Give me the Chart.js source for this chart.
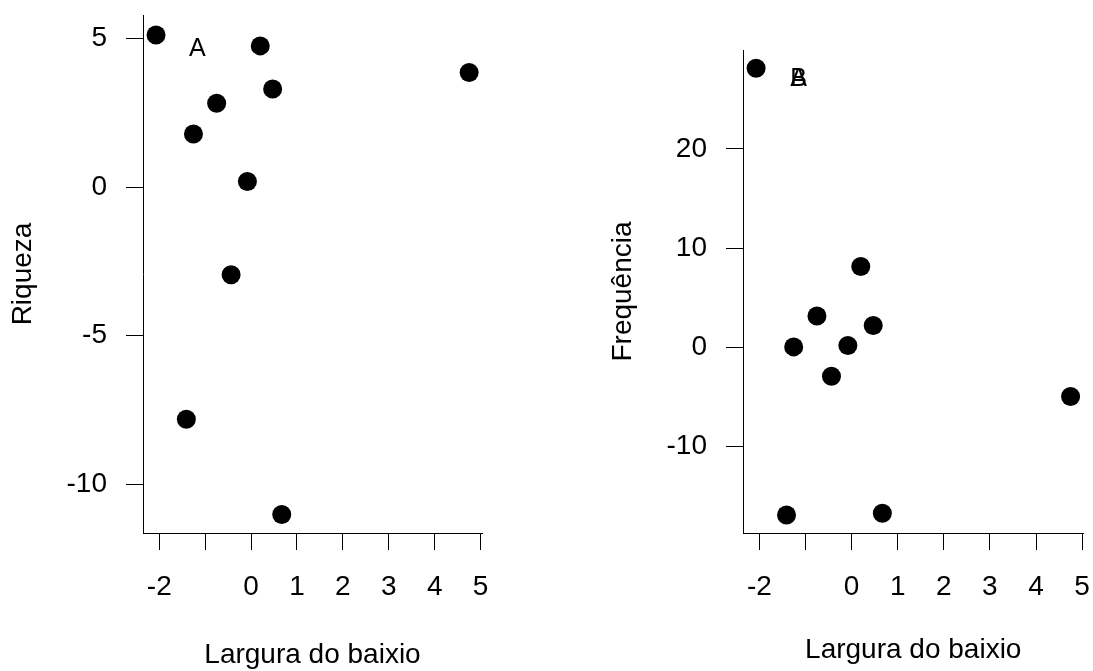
<!DOCTYPE html>
<html>
<head>
<meta charset="utf-8">
<script src="https://cdn.jsdelivr.net/npm/chart.js@4.4.1/dist/chart.umd.min.js"></script>
<style>
  html, body { margin: 0; padding: 0; background: #fff; }
  #wrap { position: relative; width: 1093px; height: 671px; overflow: hidden; background: #fff; }
  .panel { position: absolute; top: 0; height: 671px; }
  #p1 { left: 0; width: 546px; }
  #p2 { left: 546px; width: 547px; }
</style>
</head>
<body>
<div id="wrap">
  <div class="panel" id="p1"><canvas id="c1"></canvas></div>
  <div class="panel" id="p2"><canvas id="c2"></canvas></div>
</div>
<script>
// ---- data ----
const larguraX = [-2.07, 0.20, 4.75, 0.47, -0.75, -1.255, -0.08, -0.435, -1.41, 0.668];
const riqueza = [5.12, 4.755, 3.86, 3.30, 2.82, 1.79, 0.19, -2.95, -7.82, -11.03];
const frequencia = [28.13, 8.15, -4.93, 2.22, 3.18, 0.06, 0.2, -2.89, -16.88, -16.7];

const xTicks = [-2, -1, 0, 1, 2, 3, 4, 5];
const xTickLabels = ['-2', '', '0', '1', '2', '3', '4', '5'];
const yTicksLeft = [-10, -5, 0, 5];
const yTicksRight = [-10, 0, 10, 20];

const xTitle = 'Largura do baixio';
const yTitleLeft = 'Riqueza';
const yTitleRight = 'Frequência';

const labelsLeft = [{ x: -1.17, y: 4.64, text: 'A' }];
const labelsRight = [{ x: -1.15, y: 27.03, text: 'A' }, { x: -1.15, y: 27.03, text: 'B' }];

const xRange = [-2.354, 5.03];
const yRangeLeft = [-11.65, 5.795];
const yRangeRight = [-18.69, 29.97];

// ---- helpers ----
const FONT = '"Liberation Sans", Arial, sans-serif';
Chart.defaults.font.family = FONT;
Chart.defaults.color = '#000';

const textPlugin = {
  id: 'textLabels',
  afterDatasetsDraw(chart, args, opts) {
    const ctx = chart.ctx;
    const xs = chart.scales.x, ys = chart.scales.y;
    ctx.save();
    ctx.fillStyle = '#000';
    ctx.font = '25px ' + FONT;
    ctx.textAlign = 'center';
    ctx.textBaseline = 'middle';
    (opts.items || []).forEach(it => {
      ctx.fillText(it.text, xs.getPixelForValue(it.x), ys.getPixelForValue(it.y));
    });
    ctx.restore();
  }
};

function makeChart(canvasId, ys, yRange, yTicks, yTitle, labels, cfg) {
  const pts = larguraX.map((x, i) => ({ x: x, y: ys[i] }));
  return new Chart(document.getElementById(canvasId), {
    type: 'scatter',
    data: {
      datasets: [{
        data: pts,
        backgroundColor: '#000',
        borderColor: '#000',
        borderWidth: 0,
        pointRadius: 9.5,
        pointHoverRadius: 9.5,
        clip: false
      }]
    },
    plugins: [textPlugin],
    options: {
      responsive: true,
      maintainAspectRatio: false,
      animation: false,
      events: [],
      layout: { padding: { left: 0, right: cfg.padRight, top: cfg.padTop, bottom: 0 } },
      plugins: {
        legend: { display: false },
        tooltip: { enabled: false },
        textLabels: { items: labels }
      },
      scales: {
        x: {
          type: 'linear',
          min: xRange[0],
          max: xRange[1],
          afterBuildTicks: (s) => { s.ticks = xTicks.map(v => ({ value: v })); },
          afterFit: (s) => { s.height = 138; s.paddingLeft = 0; s.paddingRight = 0; },
          ticks: {
            autoSkip: false,
            maxRotation: 0,
            minRotation: 0,
            padding: 20,
            font: { size: 28, family: FONT, lineHeight: 1.2 },
            color: '#000',
            callback: (v) => { const i = xTicks.indexOf(v); return i >= 0 ? xTickLabels[i] : ''; }
          },
          grid: { drawOnChartArea: false, drawTicks: true, tickLength: 17, color: '#000', lineWidth: 1 },
          border: { display: true, color: '#000', width: 1 },
          title: {
            display: true,
            text: xTitle,
            color: '#000',
            font: { size: 28, family: FONT, lineHeight: 1 },
            padding: { top: 0, bottom: cfg.xTitlePad }
          }
        },
        y: {
          type: 'linear',
          min: yRange[0],
          max: yRange[1],
          afterBuildTicks: (s) => { s.ticks = yTicks.map(v => ({ value: v })); },
          afterFit: (s) => { s.width = cfg.yWidth; s.paddingTop = 0; s.paddingBottom = 0; },
          ticks: {
            autoSkip: false,
            padding: 19,
            font: { size: 28, family: FONT, lineHeight: 1.2 },
            color: '#000',
            callback: (v) => String(v)
          },
          grid: { drawOnChartArea: false, drawTicks: true, tickLength: 17, color: '#000', lineWidth: 1 },
          border: { display: true, color: '#000', width: 1 },
          title: {
            display: true,
            text: yTitle,
            color: '#000',
            font: { size: 28, family: FONT, lineHeight: 1 },
            padding: { top: cfg.yTitlePad, bottom: 0 }
          }
        }
      }
    }
  });
}

makeChart('c1', riqueza, yRangeLeft, yTicksLeft, yTitleLeft, labelsLeft,
  { padRight: 64, padTop: 15, yWidth: 143, xTitlePad: 2, yTitlePad: 9 });
makeChart('c2', frequencia, yRangeRight, yTicksRight, yTitleRight, labelsRight,
  { padRight: 9, padTop: 50, yWidth: 197, xTitlePad: 7, yTitlePad: 63 });
</script>
</body>
</html>
